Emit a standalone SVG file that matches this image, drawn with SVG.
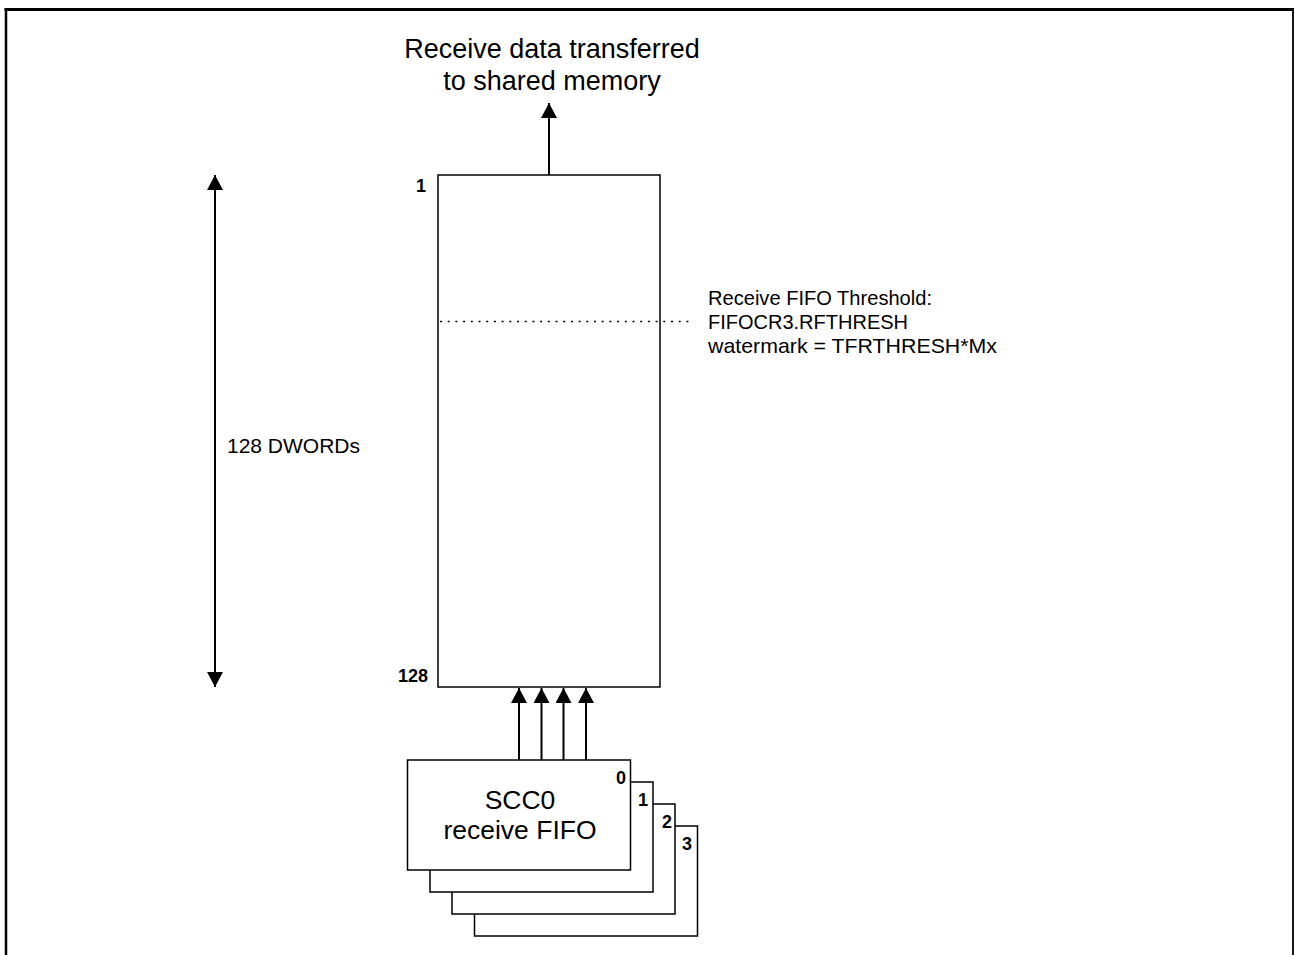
<svg xmlns="http://www.w3.org/2000/svg" width="1295" height="955" viewBox="0 0 1295 955">
<style>
.t{font-family:"Liberation Sans",Arial,sans-serif;fill:#000}
.b{font-family:"Liberation Sans",Arial,sans-serif;font-weight:bold;fill:#000}
.box{fill:#fff;stroke:#000;stroke-width:1.5}
.ln{stroke:#000;stroke-width:2;fill:none}
</style>
<defs>
<marker id="ah" viewBox="0 0 15 16" refX="15" refY="8" markerWidth="15" markerHeight="16" markerUnits="userSpaceOnUse" orient="auto-start-reverse">
<path d="M0,0 L15,8 L0,16 z" fill="#000"/>
</marker>
</defs>
<rect width="1295" height="955" fill="#fff"/>
<g id="frame">
<line x1="4.5" y1="9.5" x2="1294" y2="9.5" stroke="#000" stroke-width="3"/>
<line x1="6" y1="8" x2="6" y2="955" stroke="#000" stroke-width="2.5"/>
<line x1="1293" y1="8" x2="1293" y2="955" stroke="#000" stroke-width="1.8"/>
</g>
<g id="title">
<text class="t" font-size="27" text-anchor="middle" x="552" y="57.5">Receive data transferred</text>
<text class="t" font-size="27" text-anchor="middle" x="552" y="89.5">to shared memory</text>
</g>
<g id="fifo">
<rect class="box" x="438" y="175" width="222" height="512"/>
<text class="b" font-size="18" text-anchor="end" x="426" y="192">1</text>
<text class="b" font-size="18" text-anchor="end" x="428" y="682">128</text>
</g>
<g id="threshold">
<line x1="440" y1="321.5" x2="692" y2="321.5" stroke="#000" stroke-width="1.5" stroke-dasharray="2 5.7"/>
<text class="t" font-size="21" x="708" y="305" textLength="224" lengthAdjust="spacingAndGlyphs">Receive FIFO Threshold:</text>
<text class="t" font-size="21" x="708" y="329" textLength="200" lengthAdjust="spacingAndGlyphs">FIFOCR3.RFTHRESH</text>
<text class="t" font-size="21" x="708" y="353" textLength="289" lengthAdjust="spacingAndGlyphs">watermark = TFRTHRESH*Mx</text>
</g>
<g id="size">
<text class="t" font-size="21" x="227" y="452.5">128 DWORDs</text>
</g>
<g id="scc3">
<rect class="box" x="474.5" y="826" width="223" height="110"/>
<text class="b" font-size="18" text-anchor="end" x="692" y="850">3</text>
</g>
<g id="scc2">
<rect class="box" x="452" y="804" width="223" height="110"/>
<text class="b" font-size="18" text-anchor="end" x="672" y="828">2</text>
</g>
<g id="scc1">
<rect class="box" x="430" y="782" width="223" height="110"/>
<text class="b" font-size="18" text-anchor="end" x="648" y="806">1</text>
</g>
<g id="scc0">
<rect class="box" x="407.5" y="760" width="223" height="110"/>
<text class="b" font-size="18" text-anchor="end" x="626" y="784">0</text>
<text class="t" font-size="26.5" text-anchor="middle" x="520" y="809">SCC0</text>
<text class="t" font-size="26.5" text-anchor="middle" x="520" y="839">receive FIFO</text>
</g>
<g id="connectors">
<line class="ln" x1="549" y1="175" x2="549" y2="103" marker-end="url(#ah)"/>
<line class="ln" x1="215" y1="175" x2="215" y2="687" marker-start="url(#ah)" marker-end="url(#ah)"/>
<line class="ln" x1="519" y1="760" x2="519" y2="688" marker-end="url(#ah)"/>
<line class="ln" x1="541.5" y1="760" x2="541.5" y2="688" marker-end="url(#ah)"/>
<line class="ln" x1="563.5" y1="760" x2="563.5" y2="688" marker-end="url(#ah)"/>
<line class="ln" x1="586" y1="760" x2="586" y2="688" marker-end="url(#ah)"/>
</g>
</svg>
